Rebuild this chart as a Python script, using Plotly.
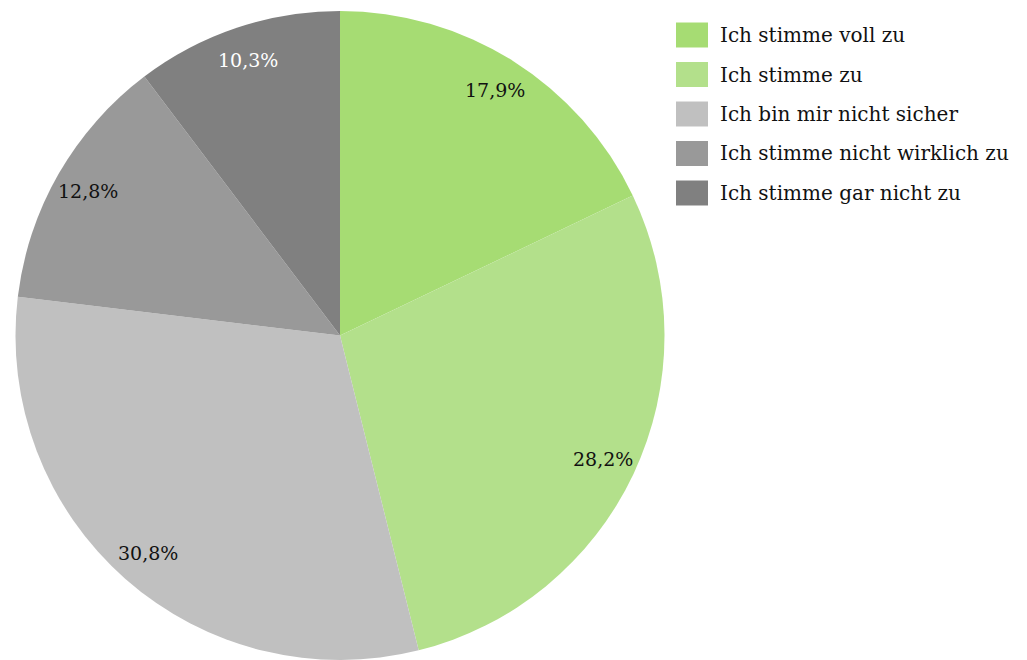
import math
import plotly.graph_objects as go

# Survey answers and their shares (percent)
labels = [
    "Ich stimme voll zu",
    "Ich stimme zu",
    "Ich bin mir nicht sicher",
    "Ich stimme nicht wirklich zu",
    "Ich stimme gar nicht zu",
]
shares = [17.9, 28.2, 30.8, 12.8, 10.3]
colors = ["#a6dc73", "#b3e08b", "#c0c0c0", "#999999", "#808080"]
label_colors = ["#111111", "#111111", "#111111", "#111111", "#ffffff"]

FONT = "Georgia, 'DejaVu Serif', serif"
W, H = 1027, 660
cx, cy, R = 340.0, 335.5, 324.5  # pie centre and radius in pixels

fig = go.Figure(
    go.Pie(
        labels=labels,
        values=shares,
        sort=False,
        direction="clockwise",
        rotation=0,
        marker=dict(colors=colors, line=dict(width=0)),
        textinfo="none",
        hoverinfo="label+percent",
        showlegend=False,
        domain=dict(x=[(cx - R) / W, (cx + R) / W], y=[1 - (cy + R) / H, 1 - (cy - R) / H]),
    )
)

# Percentage labels placed near the rim of each slice
total = sum(shares)
annotations = []
cum = 0.0
for v, col in zip(shares, label_colors):
    theta = 2 * math.pi * (cum + v / 2) / total
    px = cx + 0.895 * R * math.sin(theta)
    py = cy - 0.895 * R * math.cos(theta)
    annotations.append(dict(
        x=px / W, y=1 - py / H, xref="paper", yref="paper",
        text=f"{v:.1f}%".replace(".", ","), showarrow=False,
        font=dict(family=FONT, size=19, color=col),
        xanchor="center", yanchor="middle",
    ))
    cum += v

# Legend on the right
shapes = []
lx0, lx1, sw_h = 676, 708, 25
row0, step = 35, 39.5
for i, (lab, col) in enumerate(zip(labels, colors)):
    yc = row0 + i * step
    shapes.append(dict(
        type="rect", xref="paper", yref="paper",
        x0=lx0 / W, x1=lx1 / W, y0=1 - (yc + sw_h / 2) / H, y1=1 - (yc - sw_h / 2) / H,
        fillcolor=col, line=dict(width=0),
    ))
    annotations.append(dict(
        x=718 / W, y=1 - yc / H, xref="paper", yref="paper",
        text=lab, showarrow=False, xanchor="left", yanchor="middle",
        font=dict(family=FONT, size=20, color="#111111"),
    ))

fig.update_layout(
    width=W, height=H,
    margin=dict(l=0, r=0, t=0, b=0),
    paper_bgcolor="white", plot_bgcolor="white",
    annotations=annotations, shapes=shapes,
)

fig.write_html("out.html")
